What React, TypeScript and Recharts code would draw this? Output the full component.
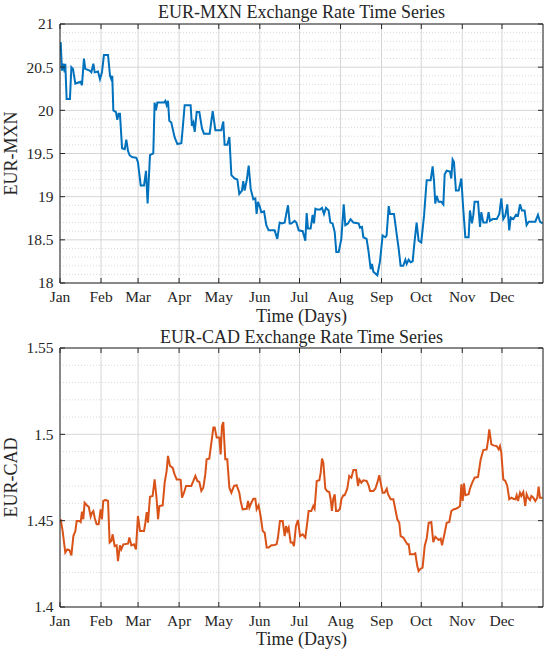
import React from 'react';
import { LineChart, Line, XAxis, YAxis, CartesianGrid, Label } from 'recharts';

// x axis: day of year (0 = 1 Jan)
const monthStarts = [0, 31, 59, 90, 120, 151, 181, 212, 243, 273, 304, 334];
const monthNames = ['Jan', 'Feb', 'Mar', 'Apr', 'May', 'Jun', 'Jul', 'Aug', 'Sep', 'Oct', 'Nov', 'Dec'];

const mxnTicks = [18, 18.5, 19, 19.5, 20, 20.5, 21];
const mxnMinor = [18.1, 18.2, 18.3, 18.4, 18.6, 18.7, 18.8, 18.9, 19.1, 19.2, 19.3, 19.4, 19.6, 19.7, 19.8, 19.9, 20.1, 20.2, 20.3, 20.4, 20.6, 20.7, 20.8, 20.9];
const cadTicks = [1.4, 1.45, 1.5, 1.55];
const cadMinor = [1.41, 1.42, 1.43, 1.44, 1.46, 1.47, 1.48, 1.49, 1.51, 1.52, 1.53, 1.54];

// [day, EUR-MXN]
const mxnSeries: [number, number][] = [
  [0.5, 20.79], [1.5, 20.46], [2.5, 20.54], [3.5, 20.44], [4, 20.54], [5, 20.13], [7.5, 20.13], [8.6, 20.5],
  [9.8, 20.48], [11.6, 20.31], [15.6, 20.33], [16.6, 20.29], [18.1, 20.6], [19.1, 20.48], [22.4, 20.46], [23.7, 20.44],
  [25.2, 20.54], [26.2, 20.44], [28.7, 20.45], [30.2, 20.36], [31.7, 20.44], [33.2, 20.64], [36.3, 20.64], [37.8, 20.4],
  [38.8, 20.36], [39.5, 20.4], [40.3, 20.0], [42.3, 19.98], [43.3, 19.89], [44.3, 19.96], [45.3, 19.96], [46.9, 19.56],
  [48.9, 19.55], [50.1, 19.66], [51.4, 19.53], [52.6, 19.48], [54.4, 19.46], [57.7, 19.45], [58.9, 19.4], [61, 19.13],
  [63.5, 19.13], [65, 19.3], [66.2, 18.92], [68, 19.48], [70.5, 19.5], [71.5, 20.09], [72.5, 20.0], [73.6, 20.09],
  [78.6, 20.09], [79.6, 20.11], [80.6, 20.06], [81.6, 20.11], [82.6, 19.88], [84.1, 19.86], [86.6, 19.69], [88.7, 19.61],
  [91.7, 19.62], [92.9, 19.82], [94.2, 20.06], [98.7, 20.06], [99.7, 19.82], [100.8, 19.86], [101.8, 19.75], [103.3, 19.98],
  [105.3, 19.98], [107.3, 19.79], [108.8, 19.73], [113.1, 19.73], [115.4, 19.99], [117.4, 19.77], [121.9, 19.77], [123.4, 19.87],
  [124.4, 19.6], [126.4, 19.6], [128, 19.69], [129.5, 19.25], [132, 19.21], [134, 19.2], [135.5, 19.03], [137.5, 19.07],
  [138.5, 19.18], [139.5, 19.07], [141.1, 19.19], [142.6, 19.36], [144.1, 19.09], [146.1, 18.97], [147.6, 18.98], [148.6, 18.8],
  [149.6, 18.94], [151.1, 18.88], [152.1, 18.82], [154.2, 18.83], [155.9, 18.67], [157.7, 18.61], [162.2, 18.61], [164.2, 18.51],
  [166, 18.7], [167.8, 18.69], [169.8, 18.7], [171, 18.8], [172.3, 18.9], [173.6, 18.69], [174.8, 18.69], [177.3, 18.72],
  [178.6, 18.7], [180.4, 18.61], [183.4, 18.6], [185.4, 18.49], [186.4, 18.81], [187.4, 18.63], [189.4, 18.63], [190.9, 18.79],
  [191.9, 18.69], [193, 18.86], [194.5, 18.85], [196.5, 18.85], [198, 18.87], [199.5, 18.8], [201, 18.87], [203, 18.84],
  [204.3, 18.7], [206, 18.69], [207.6, 18.59], [208.8, 18.36], [210.6, 18.36], [212.6, 18.51], [214.4, 18.91], [215.6, 18.67],
  [217.6, 18.69], [219.6, 18.74], [221.7, 18.7], [225.7, 18.69], [226.7, 18.64], [228.2, 18.65], [229.2, 18.53], [231.7, 18.51],
  [233.2, 18.36], [234.8, 18.16], [235.8, 18.22], [236.8, 18.13], [239.8, 18.09], [241.8, 18.25], [243.8, 18.55], [245.8, 18.53],
  [246.8, 18.55], [248.4, 18.89], [249.4, 18.8], [252.4, 18.8], [254.4, 18.57], [255.9, 18.4], [257.4, 18.2], [259.4, 18.2],
  [261, 18.27], [262, 18.22], [263.5, 18.27], [265, 18.24], [266.5, 18.25], [268, 18.49], [269.5, 18.7], [271, 18.49],
  [273, 18.47], [275.1, 18.78], [277.1, 19.19], [280.1, 19.19], [281.6, 19.35], [282.6, 19.19], [283.6, 18.92], [284.6, 19.01],
  [286.1, 18.94], [288.2, 18.94], [289.7, 18.91], [290.7, 19.26], [292.2, 19.3], [294.7, 19.29], [295.7, 19.21], [296.7, 19.43],
  [297.7, 19.4], [299.2, 19.07], [301.3, 19.07], [303.3, 19.21], [304.5, 18.91], [306.3, 18.53], [308.8, 18.53], [309.8, 18.84],
  [311.3, 18.69], [312.3, 18.78], [313.3, 18.94], [315.9, 18.94], [317.4, 18.65], [318.4, 18.82], [319.9, 18.7], [322.4, 18.7],
  [323.9, 18.82], [324.9, 18.72], [327, 18.74], [330, 18.74], [332, 18.8], [333.5, 18.98], [335, 18.74], [336.5, 18.78],
  [338, 18.91], [339.5, 18.61], [340.6, 18.76], [342.6, 18.74], [344.6, 18.79], [346.1, 18.78], [347.6, 18.91], [349.1, 18.84],
  [351.1, 18.84], [352.6, 18.67], [354.2, 18.71], [359.2, 18.71], [361.2, 18.79], [362.7, 18.71], [364.7, 18.69],
];

// [day, EUR-CAD]
const cadSeries: [number, number][] = [
  [0.5, 1.4508], [2, 1.444], [4, 1.4315], [5.5, 1.4334], [7.1, 1.433], [8.6, 1.4299], [10.1, 1.4411], [11.6, 1.444],
  [12.6, 1.4498], [14.6, 1.4498], [15.6, 1.4492], [16.6, 1.4552], [17.6, 1.4508], [18.6, 1.4604], [20.7, 1.4585], [21.7, 1.4581],
  [23.2, 1.4523], [24.2, 1.4546], [25.2, 1.4556], [26.2, 1.4517], [27.7, 1.4479], [29.2, 1.4479], [30.7, 1.4566], [31.7, 1.4508],
  [32.7, 1.4614], [34.3, 1.462], [36.3, 1.4614], [37.5, 1.4373], [38.8, 1.4382], [39.8, 1.4421], [41.3, 1.4353], [42.8, 1.4357],
  [43.8, 1.4266], [45.3, 1.4357], [46.3, 1.4334], [47.9, 1.4363], [51.4, 1.4367], [52.4, 1.4402], [53.9, 1.4357], [55.9, 1.4363],
  [57.4, 1.4334], [58.9, 1.4527], [60.5, 1.444], [63.5, 1.444], [64.5, 1.4488], [65.5, 1.455], [66.5, 1.4488], [68, 1.4639],
  [70, 1.4643], [71.5, 1.4739], [73, 1.4627], [74.1, 1.4508], [75.1, 1.4585], [77.6, 1.4589], [79.1, 1.472], [80.6, 1.4788],
  [81.6, 1.4875], [83.1, 1.4817], [85.1, 1.4807], [86.6, 1.4768], [88.2, 1.4739], [90.2, 1.4739], [91.2, 1.4736], [92.2, 1.4633],
  [93.7, 1.4662], [95.2, 1.4701], [99.2, 1.4701], [100.8, 1.473], [102.3, 1.4759], [103.8, 1.473], [105.3, 1.4724], [106.8, 1.4672],
  [108.3, 1.4691], [109.8, 1.4768], [110.8, 1.4855], [112.8, 1.4859], [114.4, 1.4952], [115.9, 1.5039], [116.9, 1.5039], [118.4, 1.4981],
  [120.4, 1.4981], [121.4, 1.4884], [122.4, 1.5048], [123.4, 1.5071], [124.9, 1.4855], [126.4, 1.4855], [128, 1.4691], [129.5, 1.4662],
  [131.5, 1.4701], [133.5, 1.4705], [135.5, 1.4662], [136.5, 1.4614], [138, 1.4566], [141.1, 1.4569], [142.1, 1.4614], [143.1, 1.4575],
  [144.6, 1.4604], [146.1, 1.4627], [147.6, 1.4627], [148.6, 1.4566], [150.1, 1.4589], [151.6, 1.4527], [153.2, 1.444], [154.7, 1.443],
  [156.2, 1.4344], [157.7, 1.4344], [159.7, 1.4357], [161.2, 1.4357], [163.7, 1.4363], [164.7, 1.4402], [166.2, 1.4498], [168.3, 1.4498],
  [169.8, 1.4411], [170.8, 1.4469], [171.8, 1.444], [172.8, 1.4459], [174.3, 1.4373], [175.8, 1.4373], [176.8, 1.4353], [178.3, 1.4469],
  [179.8, 1.4504], [181.4, 1.4411], [183.4, 1.4421], [185.4, 1.4402], [186.9, 1.4492], [187.9, 1.4556], [189.9, 1.4556], [191.4, 1.4585],
  [192.4, 1.4569], [194, 1.473], [196, 1.4734], [197, 1.4778], [198, 1.4859], [199, 1.4836], [200.5, 1.4685], [202, 1.467],
  [203.5, 1.4666], [204.5, 1.4624], [205.5, 1.4556], [206.5, 1.4627], [207.6, 1.4653], [208.6, 1.4556], [210.1, 1.4556], [211.6, 1.4569],
  [212.6, 1.4624], [214.1, 1.4647], [215.1, 1.4647], [217.1, 1.4685], [218.6, 1.4759], [220.2, 1.4749], [221.7, 1.4793], [223.7, 1.4793],
  [225.2, 1.4701], [226.2, 1.4739], [227.7, 1.472], [229.2, 1.4734], [231.7, 1.473], [233.2, 1.4705], [234.3, 1.4672], [236.8, 1.4672],
  [238.3, 1.4685], [239.8, 1.472], [241.3, 1.4763], [242.3, 1.472], [243.8, 1.4662], [245.3, 1.4662], [246.9, 1.4685], [247.9, 1.4653],
  [249.9, 1.4624], [251.9, 1.4624], [253.4, 1.4566], [254.9, 1.4508], [256.4, 1.4488], [257.4, 1.4411], [259.4, 1.4402], [261, 1.4382],
  [262.5, 1.4363], [263.5, 1.4363], [264.5, 1.4305], [267, 1.4305], [268.5, 1.4311], [270, 1.4237], [271, 1.4208], [272.5, 1.4222],
  [274, 1.4228], [275.6, 1.4353], [277.1, 1.4396], [278.6, 1.4488], [280.6, 1.4492], [282.1, 1.4376], [283.6, 1.4407], [285.1, 1.4396],
  [286.1, 1.4388], [287.7, 1.4396], [288.7, 1.4357], [290.2, 1.4411], [292.2, 1.4488], [294.2, 1.4492], [295.7, 1.4556], [297.7, 1.4566],
  [299.2, 1.4569], [300.8, 1.4575], [302.3, 1.4585], [303.3, 1.471], [304.3, 1.4614], [305.3, 1.4716], [306.3, 1.4647], [308.8, 1.4653],
  [309.8, 1.4685], [311.3, 1.4716], [313.3, 1.4749], [315.9, 1.4753], [317.9, 1.4855], [319.9, 1.4909], [322.4, 1.4913], [323.4, 1.4961],
  [324.4, 1.5029], [326, 1.4942], [327.5, 1.4936], [330, 1.4932], [331.5, 1.4913], [332.5, 1.4932], [333.5, 1.4894], [335, 1.4739],
  [336.5, 1.473], [338, 1.4701], [339.5, 1.4624], [341.1, 1.4633], [342.6, 1.4627], [344.1, 1.4624], [345.1, 1.4647], [346.1, 1.4614],
  [347.6, 1.4662], [348.6, 1.4643], [350.1, 1.4666], [351.6, 1.4585], [352.6, 1.4653], [353.7, 1.4633], [355.2, 1.462], [356.2, 1.4643],
  [357.7, 1.4633], [359.2, 1.4614], [360.7, 1.4633], [361.7, 1.4697], [362.7, 1.4633], [364.7, 1.4633],
];

const mxnData = mxnSeries.map(([day, rate]) => ({ day, rate }));
const cadData = cadSeries.map(([day, rate]) => ({ day, rate }));

const FONT = '"Liberation Serif", "Times New Roman", serif';
const INK = '#262626';
const TICK_LEN = 5;
const tickText = { fontFamily: FONT, fontSize: 15.5, fill: INK };
const labelText = { fontFamily: FONT, fontSize: 18, fill: INK };

const monthLabel = (v: number) => monthNames[monthStarts.indexOf(v)] ?? '';

const BottomTick = (p: any) => (
  <g>
    <line x1={p.x} y1={p.y} x2={p.x} y2={p.y - TICK_LEN} stroke={INK} />
    <text x={p.x} y={p.y + 19} textAnchor="middle" {...tickText}>{monthLabel(p.payload.value)}</text>
  </g>
);
const TopTick = (p: any) => <line x1={p.x} y1={p.y} x2={p.x} y2={p.y + TICK_LEN} stroke={INK} />;
const LeftTick = (p: any) => (
  <g>
    <line x1={p.x} y1={p.y} x2={p.x + TICK_LEN} y2={p.y} stroke={INK} />
    <text x={p.x - 6.5} y={p.y} dy="0.35em" textAnchor="end" {...tickText}>{p.payload.value}</text>
  </g>
);
const RightTick = (p: any) => <line x1={p.x} y1={p.y} x2={p.x - TICK_LEN} y2={p.y} stroke={INK} />;

interface PanelProps {
  title: string;
  yLabel: string;
  data: { day: number; rate: number }[];
  domain: [number, number];
  ticks: number[];
  minor: number[];
  color: string;
  height: number;
  top: number;
  bottomHeight: number;
  titleOffset: number;
  xLabelOffset: number;
}

function Panel(props: PanelProps) {
  const { title, yLabel, data, domain, ticks, minor, color, height, top, bottomHeight, titleOffset, xLabelOffset } = props;
  return (
    <LineChart width={550} height={height} data={data} margin={{ top, right: 6, bottom: 0, left: 0 }}>
      <CartesianGrid xAxisId="b" yAxisId="l" vertical={false} horizontalValues={minor} stroke="#dadada" strokeDasharray="1 2" />
      <CartesianGrid xAxisId="b" yAxisId="l" stroke="#d6d6d6" />
      <XAxis
        xAxisId="b"
        dataKey="day"
        type="number"
        domain={[0, 365]}
        allowDataOverflow
        ticks={monthStarts}
        interval={0}
        height={bottomHeight}
        tickSize={0}
        tickMargin={0}
        tickLine={false}
        axisLine={{ stroke: INK }}
        tick={BottomTick}
      >
        <Label value="Time (Days)" position="insideBottom" offset={xLabelOffset} style={labelText} />
      </XAxis>
      <XAxis
        xAxisId="t"
        orientation="top"
        dataKey="day"
        type="number"
        domain={[0, 365]}
        allowDataOverflow
        ticks={monthStarts}
        interval={0}
        height={1}
        tickSize={0}
        tickMargin={0}
        tickLine={false}
        axisLine={{ stroke: INK }}
        tick={TopTick}
      >
        <Label value={title} position="top" offset={titleOffset} style={labelText} />
      </XAxis>
      <YAxis
        yAxisId="l"
        type="number"
        domain={domain}
        allowDataOverflow
        ticks={ticks}
        interval={0}
        width={60}
        tickSize={0}
        tickMargin={0}
        tickLine={false}
        axisLine={{ stroke: INK }}
        tick={LeftTick}
      >
        <Label
          content={({ viewBox }: any) => (
            <text
              x={17}
              y={viewBox.y + viewBox.height / 2}
              transform={`rotate(-90 17 ${viewBox.y + viewBox.height / 2})`}
              textAnchor="middle"
              {...labelText}
            >
              {yLabel}
            </text>
          )}
        />
      </YAxis>
      <YAxis
        yAxisId="r"
        orientation="right"
        type="number"
        domain={domain}
        allowDataOverflow
        ticks={ticks}
        interval={0}
        width={1}
        tickSize={0}
        tickMargin={0}
        tickLine={false}
        axisLine={{ stroke: INK }}
        tick={RightTick}
      />
      <Line
        xAxisId="b"
        yAxisId="l"
        type="linear"
        dataKey="rate"
        stroke={color}
        strokeWidth={2}
        dot={false}
        isAnimationActive={false}
      />
    </LineChart>
  );
}

export default function App() {
  return (
    <div style={{ position: 'absolute', left: 0, top: 0, width: 550, height: 657, background: '#fff' }}>
      <style>{'svg.recharts-surface { overflow: visible; }'}</style>
      <Panel
        title="EUR-MXN Exchange Rate Time Series"
        yLabel="EUR-MXN"
        data={mxnData}
        domain={[18, 21]}
        ticks={mxnTicks}
        minor={mxnMinor}
        color="#0072BD"
        height={325}
        top={23}
        bottomHeight={42}
        titleOffset={5}
        xLabelOffset={3}
      />
      <Panel
        title="EUR-CAD Exchange Rate Time Series"
        yLabel="EUR-CAD"
        data={cadData}
        domain={[1.4, 1.55]}
        ticks={cadTicks}
        minor={cadMinor}
        color="#D95319"
        height={332}
        top={22}
        bottomHeight={50}
        titleOffset={4}
        xLabelOffset={12}
      />
    </div>
  );
}
